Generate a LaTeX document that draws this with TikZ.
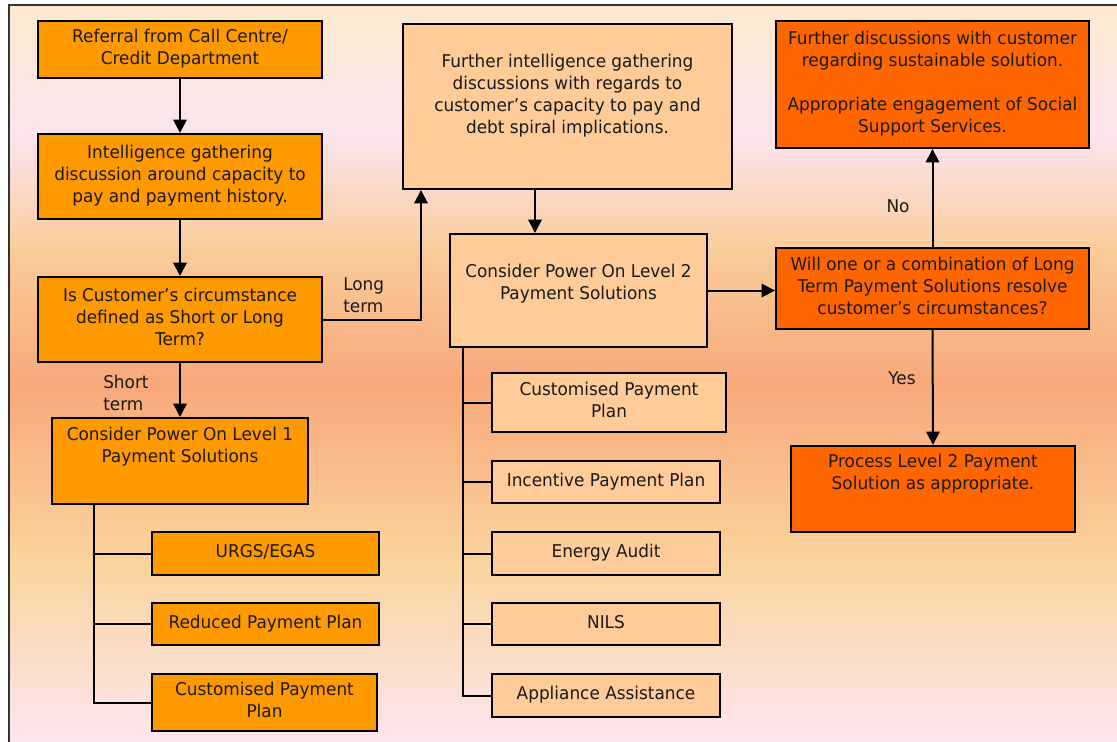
\documentclass[tikz,border=0pt]{standalone}
\usepackage{fontspec}
\setmainfont{DejaVu Sans}[FakeStretch=0.96]
\usetikzlibrary{arrows.meta}
\newdimen\px \px=0.75pt
\definecolor{dorange}{HTML}{FF9900}
\definecolor{peach}{HTML}{FFCC99}
\definecolor{redorange}{HTML}{FF6600}
\definecolor{txt}{HTML}{1A1A1A}
\newcommand\bt[4]{\parbox[c][#2\px][c]{#1\px}{\centering\strut #4\strut\par\vspace*{#3\px}}}
\tikzset{
  box/.style={draw=black, line width=1.5pt, inner sep=0pt, text=txt},
  arr/.style={line width=1.5pt, -{Triangle[width=10pt,length=10pt]}},
  ln/.style={line width=1.5pt},
  lbl/.style={text=txt, align=left, inner sep=0pt},
  every node/.style={font=\fontsize{13.2}{16.5}\selectfont}
}
\begin{document}
\begin{tikzpicture}[x=0.75pt,y=-0.75pt]
\useasboundingbox (0,0) rectangle (1117,742);
% background gradient
\shade[top color={rgb,255:red,251;green,234;blue,207}, bottom color={rgb,255:red,252;green,228;blue,238}] (9,6) rectangle (1117,136);
\shade[top color={rgb,255:red,252;green,228;blue,238}, bottom color={rgb,255:red,249;green,204;blue,154}] (9,135) rectangle (1117,251);
\shade[top color={rgb,255:red,249;green,204;blue,154}, bottom color={rgb,255:red,248;green,168;blue,122}] (9,250) rectangle (1117,386);
\shade[top color={rgb,255:red,248;green,168;blue,122}, bottom color={rgb,255:red,250;green,212;blue,156}] (9,385) rectangle (1117,561);
\shade[top color={rgb,255:red,250;green,212;blue,156}, bottom color={rgb,255:red,252;green,230;blue,238}] (9,560) rectangle (1117,742);
\draw[line width=1.5pt, black!80] (8.5,742) |- (1117,5.5);

% left column
\node[box, fill=dorange] (A) at (180,49.5) {\bt{284}{57}{0}{Referral from Call Centre/\\Credit Department}};
\node[box, fill=dorange] (B) at (180,176.5) {\bt{284}{85}{0}{Intelligence gathering\\discussion around capacity to\\pay and payment history.}};
\node[box, fill=dorange] (C) at (180,319.5) {\bt{284}{85}{0}{Is Customer’s circumstance\\defined as Short or Long\\Term?}};
\node[box, fill=dorange] (D) at (180,461) {\bt{256}{86}{27}{Consider Power On Level 1\\Payment Solutions}};
\node[box, fill=dorange] (U1) at (265.5,553.5) {\bt{227}{43}{0}{URGS/EGAS}};
\node[box, fill=dorange] (U2) at (265.5,624) {\bt{227}{42}{0}{Reduced Payment Plan}};
\node[box, fill=dorange] (U3) at (264.5,702.5) {\bt{225}{57}{0}{Customised Payment\\Plan}};

% middle column
\node[box, fill=peach] (E) at (567.5,106.5) {\bt{329}{165}{20}{Further intelligence gathering\\discussions with regards to\\customer’s capacity to pay and\\debt spiral implications.}};
\node[box, fill=peach] (F) at (578.5,290.5) {\bt{257}{113}{13}{Consider Power On Level 2\\Payment Solutions}};
\node[box, fill=peach] (R1) at (609,402.5) {\bt{234}{59}{0}{Customised Payment\\Plan}};
\node[box, fill=peach] (R2) at (606,482) {\bt{228}{42}{0}{Incentive Payment Plan}};
\node[box, fill=peach] (R3) at (606,553.5) {\bt{228}{43}{0}{Energy Audit}};
\node[box, fill=peach] (R4) at (606,624) {\bt{228}{42}{0}{NILS}};
\node[box, fill=peach] (R5) at (606,695.5) {\bt{228}{43}{0}{Appliance Assistance}};

% right column
\node[box, fill=redorange] (H) at (932.5,84.5) {\bt{313}{127}{0}{Further discussions with customer\\regarding sustainable solution.\\[16.5pt]Appropriate engagement of Social\\Support Services.}};
\node[box, fill=redorange] (G) at (932.5,288.5) {\bt{313}{81}{0}{Will one or a combination of Long\\Term Payment Solutions resolve\\customer’s circumstances?}};
\node[box, fill=redorange] (I) at (933,489) {\bt{284}{86}{30}{Process Level 2 Payment\\Solution as appropriate.}};

% connectors
\draw[arr] (A) -- (B);
\draw[arr] (B) -- (C);
\draw[arr] (C) -- (D);
\draw[arr] (C.east) -| ([xshift=19\px]E.south west);
\coordinate (ef) at ([xshift=-32.5\px]E.south);
\draw[arr] (ef) -- (ef |- F.north);
\draw[arr] (F.east) -- (F.east -| G.west);
\draw[arr] (G) -- (H);
\draw[arr] (G.south) -- (I.north);

\coordinate (lt) at ([xshift=43\px]D.south west);
\draw[ln] (lt) |- (U3.west);
\draw[ln] (lt |- U1.west) -- (U1.west);
\draw[ln] (lt |- U2.west) -- (U2.west);

\coordinate (rt) at ([xshift=14\px]F.south west);
\draw[ln] (rt) |- (R5.west);
\draw[ln] (rt |- R1.west) -- (R1.west);
\draw[ln] (rt |- R2.west) -- (R2.west);
\draw[ln] (rt |- R3.west) -- (R3.west);
\draw[ln] (rt |- R4.west) -- (R4.west);

% labels
\node[lbl, anchor=west] (long) at (343,295) {Long\\term};
\node[lbl, anchor=west] (short) at (103,393) {Short\\term};
\node[lbl] (no) at (898,206) {No};
\node[lbl] (yes) at (902,378) {Yes};
\end{tikzpicture}
\end{document}
